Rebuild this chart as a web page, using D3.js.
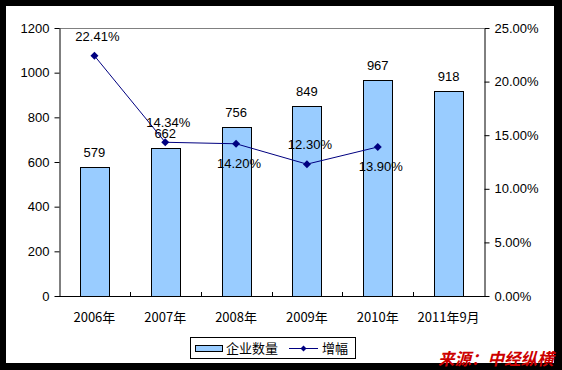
<!DOCTYPE html>
<html>
<head>
<meta charset="utf-8">
<script src="https://d3js.org/d3.v7.min.js"></script>
<style>
body { margin: 0; background: #000; }
text { font-family: "Liberation Sans", Arial, sans-serif; }
.cjk { font-family: "Noto Sans CJK SC", sans-serif; }
</style>
</head>
<body>
<div id="chart"></div>
<script>
// data
var categories = ["2006年", "2007年", "2008年", "2009年", "2010年", "2011年9月"];
var counts = [579, 662, 756, 849, 967, 918];
var growth = [22.41, 14.34, 14.20, 12.30, 13.90, null];
var growthLabelBelow = [false, false, true, false, true, false];
var leftTicks = [0, 200, 400, 600, 800, 1000, 1200];
var rightTicks = [0, 5, 10, 15, 20, 25];

var W = 562, H = 370;
var plot = {left: 59, right: 484, top: 28, bottom: 296};

var svg = d3.select("#chart").append("svg")
  .attr("width", W)
  .attr("height", H);

// black frame + white card
svg.append("rect").attr("width", W).attr("height", H).attr("fill", "#000");
svg.append("rect").attr("x", 6).attr("y", 6).attr("width", 548).attr("height", 357).attr("fill", "#fff");

var x = d3.scaleBand().domain(categories).range([plot.left, plot.right]);
var y = d3.scaleLinear().domain([0, 1200]).range([plot.bottom, plot.top]);
var y2 = d3.scaleLinear().domain([0, 25]).range([plot.bottom, plot.top]);

// top border of the plot area
svg.append("line")
  .attr("x1", plot.left).attr("x2", plot.right)
  .attr("y1", plot.top + 0.5).attr("y2", plot.top + 0.5)
  .attr("stroke", "#808080");

// bars
var bw = x.bandwidth() * 0.41;
svg.append("g").selectAll("rect")
  .data(counts)
  .join("rect")
    .attr("x", (d, i) => Math.round(x(categories[i]) + x.bandwidth() / 2 - bw / 2) + 0.5)
    .attr("y", d => Math.round(y(d)) + 0.5)
    .attr("width", Math.round(bw))
    .attr("height", d => plot.bottom - Math.round(y(d)))
    .attr("fill", "#99ccff")
    .attr("stroke", "#000");

// left axis
var gl = svg.append("g")
  .attr("transform", "translate(" + (plot.left + 0.5) + ",0)")
  .call(d3.axisLeft(y).tickValues(leftTicks).tickSize(5).tickPadding(5).tickSizeOuter(0)
    .tickFormat(d3.format("d")));
gl.selectAll("text").style("font-size", "13px").attr("fill", "#000");

// right axis
var gr = svg.append("g")
  .attr("transform", "translate(" + (plot.right + 0.5) + ",0)")
  .call(d3.axisRight(y2).tickValues(rightTicks).tickSize(5).tickPadding(5).tickSizeOuter(0)
    .tickFormat(d => d.toFixed(2) + "%"));
gr.selectAll("text").style("font-size", "13px").attr("fill", "#000");

// bottom axis: ticks at category boundaries pointing up
var gb = svg.append("g");
gb.append("line")
  .attr("x1", plot.left).attr("x2", plot.right + 1)
  .attr("y1", plot.bottom + 0.5).attr("y2", plot.bottom + 0.5)
  .attr("stroke", "#000");
gb.selectAll(".tk")
  .data(categories.slice(1))
  .join("line")
    .attr("x1", d => Math.round(x(d)) + 0.5)
    .attr("x2", d => Math.round(x(d)) + 0.5)
    .attr("y1", plot.bottom)
    .attr("y2", plot.bottom - 4)
    .attr("stroke", "#000");
gb.selectAll("text")
  .data(categories)
  .join("text")
    .attr("class", "cjk")
    .attr("x", d => x(d) + x.bandwidth() / 2)
    .attr("y", 322)
    .attr("text-anchor", "middle")
    .style("font-size", "13px")
    .text(d => d);

// bar value labels
svg.append("g").selectAll("text")
  .data(counts)
  .join("text")
    .attr("x", (d, i) => x(categories[i]) + x.bandwidth() / 2)
    .attr("y", d => y(d) - 10)
    .attr("text-anchor", "middle")
    .style("font-size", "13px")
    .text(d => d);

// growth line
var pts = growth.map((d, i) => ({c: categories[i], v: d, below: growthLabelBelow[i]}))
  .filter(d => d.v !== null);
var cx = d => x(d.c) + x.bandwidth() / 2;

svg.append("path")
  .datum(pts)
  .attr("fill", "none")
  .attr("stroke", "#000080")
  .attr("stroke-width", 1)
  .attr("d", d3.line().x(cx).y(d => y2(d.v)));

svg.append("g").selectAll("path")
  .data(pts)
  .join("path")
    .attr("transform", d => "translate(" + cx(d) + "," + y2(d.v) + ")")
    .attr("d", "M0,-4L4,0L0,4L-4,0Z")
    .attr("fill", "#000080");

svg.append("g").selectAll("text")
  .data(pts)
  .join("text")
    .attr("x", d => cx(d) + 3)
    .attr("y", d => d.below ? y2(d.v) + 24 : y2(d.v) - 15)
    .attr("text-anchor", "middle")
    .style("font-size", "13px")
    .text(d => d.v.toFixed(2) + "%");

// legend
var lg = svg.append("g");
lg.append("rect")
  .attr("x", 190.5).attr("y", 337.5).attr("width", 165).attr("height", 21)
  .attr("fill", "#fff").attr("stroke", "#000");
lg.append("rect")
  .attr("x", 195.5).attr("y", 345.5).attr("width", 27).attr("height", 6)
  .attr("fill", "#99ccff").attr("stroke", "#000");
lg.append("text").attr("class", "cjk")
  .attr("x", 226).attr("y", 353).style("font-size", "13px").text("企业数量");
lg.append("line")
  .attr("x1", 289).attr("x2", 318).attr("y1", 348.5).attr("y2", 348.5)
  .attr("stroke", "#000080");
lg.append("path")
  .attr("transform", "translate(303.5,348.5)")
  .attr("d", "M0,-3L3,0L0,3L-3,0Z")
  .attr("fill", "#000080");
lg.append("text").attr("class", "cjk")
  .attr("x", 322).attr("y", 353).style("font-size", "13px").text("增幅");

// source note
svg.append("text")
  .attr("class", "cjk")
  .attr("x", 438).attr("y", 365)
  .style("font-size", "16.5px")
  .style("font-weight", "bold")
  .style("font-style", "italic")
  .attr("fill", "#cc0000")
  .text("来源：中经纵横");
</script>
</body>
</html>
